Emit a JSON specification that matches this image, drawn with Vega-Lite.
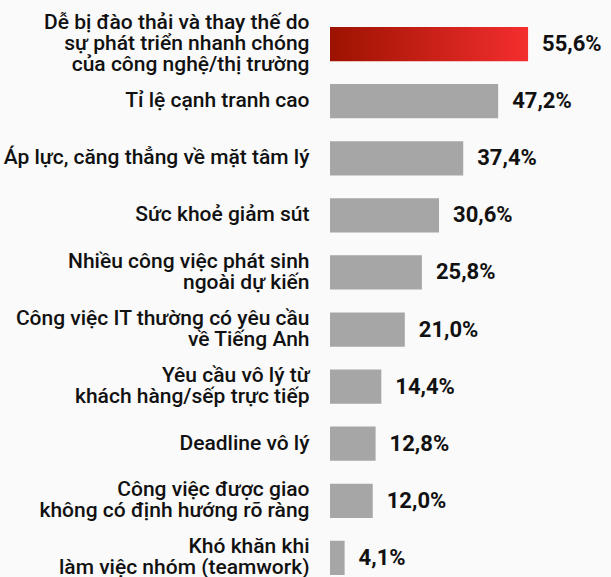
{
  "$schema": "https://vega.github.io/schema/vega-lite/v6.json",
  "autosize": "none",
  "width": 285,
  "height": 548,
  "padding": {"left": 330, "top": 27, "right": 0, "bottom": 2},
  "background": "#fafafa",
  "data": {"values": [
    {"cat": "Dễ bị đào thải và thay thế do |sự phát triển nhanh chóng |của công nghệ/thị trường", "value": 55.6, "txt": "55,6%", "top": "yes"},
    {"cat": "Tỉ lệ cạnh tranh cao", "value": 47.2, "txt": "47,2%", "top": "no"},
    {"cat": "Áp lực, căng thẳng về mặt tâm lý", "value": 37.4, "txt": "37,4%", "top": "no"},
    {"cat": "Sức khoẻ giảm sút", "value": 30.6, "txt": "30,6%", "top": "no"},
    {"cat": "Nhiều công việc phát sinh|ngoài dự kiến", "value": 25.8, "txt": "25,8%", "top": "no"},
    {"cat": "Công việc IT thường có yêu cầu|về Tiếng Anh", "value": 21.0, "txt": "21,0%", "top": "no"},
    {"cat": "Yêu cầu vô lý từ|khách hàng/sếp trực tiếp", "value": 14.4, "txt": "14,4%", "top": "no"},
    {"cat": "Deadline vô lý", "value": 12.8, "txt": "12,8%", "top": "no"},
    {"cat": "Công việc được giao |không có định hướng rõ ràng", "value": 12.0, "txt": "12,0%", "top": "no"},
    {"cat": "Khó khăn khi |làm việc nhóm (teamwork)", "value": 4.1, "txt": "4,1%", "top": "no"}
  ]},
  "encoding": {
    "y": {
      "field": "cat", "type": "nominal", "sort": null,
      "scale": {"paddingInner": 0.4, "paddingOuter": 0},
      "axis": {
        "title": null, "ticks": false, "domain": false, "grid": false,
        "labelExpr": "split(datum.label, '|')",
        "labelFont": "Roboto", "labelFontSize": 21, "labelFontWeight": 500,
        "labelColor": "#111111", "labelLineHeight": 21, "labelPadding": 21,
        "labelLimit": 400,
        "labelOffset": {"condition": [
          {"test": "length(split(datum.value, '|')) == 3", "value": -21},
          {"test": "length(split(datum.value, '|')) == 2", "value": -10.5}
        ], "value": 0}
      }
    },
    "x": {"field": "value", "type": "quantitative", "scale": {"domain": [0, 80]}, "axis": null}
  },
  "layer": [
    {"mark": {"type": "bar"}, "encoding": {"color": {"condition": {"test": "datum.top == 'yes'", "value": {"gradient": "linear", "x1": 0, "y1": 0, "x2": 1, "y2": 0, "stops": [{"offset": 0, "color": "#9c1200"}, {"offset": 1, "color": "#f42e2e"}]}}, "value": "#a6a6a6"}}},
    {"mark": {"type": "text", "align": "left", "baseline": "middle", "dx": 14, "font": "Roboto", "fontSize": 22, "fontWeight": "bold", "color": "#111111"}, "encoding": {"text": {"field": "txt"}}}
  ],
  "config": {"view": {"stroke": null}}
}
